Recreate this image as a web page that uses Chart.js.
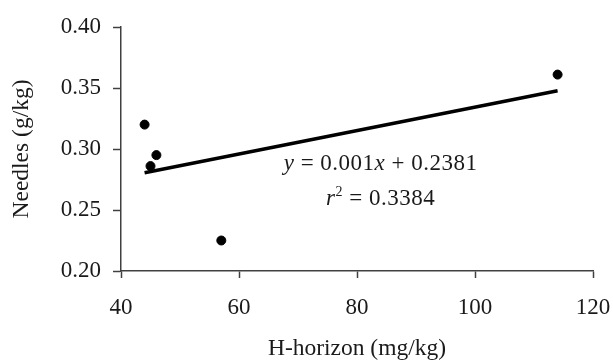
<!DOCTYPE html>
<html>
<head>
<meta charset="utf-8">
<script src="https://cdn.jsdelivr.net/npm/chart.js@4"></script>
<style>
  html, body { margin: 0; padding: 0; background: #fff; }
  #wrap { width: 613px; height: 363px; }
</style>
</head>
<body>
<div id="wrap"><canvas id="chart" width="613" height="363"></canvas></div>
<script>
// 数据
const hHorizon = [44, 45, 46, 57, 114];
const needles = [0.320, 0.286, 0.295, 0.225, 0.361];
const trendX = [44, 114];
const trendY = [0.2806, 0.3478];
const xTicks = [40, 60, 80, 100, 120];
const yTicks = [0.20, 0.25, 0.30, 0.35, 0.40];

const SERIF = '"Liberation Serif", "Times New Roman", serif';
const AXIS_COLOR = '#404040';
const TEXT_COLOR = '#1a1a1a';

// 回归方程文字
const equationPlugin = {
    id: 'equation',
    afterDatasetsDraw(chart) {
        const ctx = chart.ctx;
        const area = chart.chartArea;
        const cx = area.left + (area.right - area.left) * 0.55;
        const y1 = area.top + 137;
        const y2 = area.top + 172;
        ctx.save();
        ctx.fillStyle = TEXT_COLOR;
        ctx.textBaseline = 'middle';
        ctx.letterSpacing = '0.5px';

        const line1 = [
            ['y', 'italic'], [' = 0.001', 'normal'], ['x', 'italic'], [' + 0.2381', 'normal']
        ];
        drawParts(ctx, line1, cx, y1, 23);

        const line2 = [
            ['r', 'italic'], ['2', 'sup'], [' = 0.3384', 'normal']
        ];
        drawParts(ctx, line2, cx, y2, 23);
        ctx.restore();
    }
};

function partFont(style, size) {
    if (style === 'italic') return 'italic ' + size + 'px ' + SERIF;
    if (style === 'sup') return Math.round(size * 0.6) + 'px ' + SERIF;
    return size + 'px ' + SERIF;
}

function drawParts(ctx, parts, cx, cy, size) {
    let total = 0;
    parts.forEach(p => {
        ctx.font = partFont(p[1], size);
        total += ctx.measureText(p[0]).width;
    });
    let x = cx - total / 2;
    parts.forEach(p => {
        ctx.font = partFont(p[1], size);
        ctx.textAlign = 'left';
        const dy = p[1] === 'sup' ? -size * 0.3 : 0;
        ctx.fillText(p[0], x, cy + dy);
        x += ctx.measureText(p[0]).width;
    });
}

const ctx = document.getElementById('chart');

new Chart(ctx, {
    type: 'scatter',
    data: {
        datasets: [{
            label: 'Needles',
            data: hHorizon.map((x, i) => ({ x: x, y: needles[i] })),
            backgroundColor: '#000',
            borderColor: '#000',
            pointRadius: 4.5,
            pointHoverRadius: 4.5
        }, {
            label: 'Trend',
            type: 'line',
            data: trendX.map((x, i) => ({ x: x, y: trendY[i] })),
            borderColor: '#000',
            borderWidth: 3.5,
            pointRadius: 0,
            fill: false
        }]
    },
    options: {
        responsive: false,
        animation: false,
        events: [],
        layout: {
            padding: { top: 27, right: 20, left: 0, bottom: 0 }
        },
        plugins: {
            legend: { display: false },
            tooltip: { enabled: false }
        },
        scales: {
            x: {
                type: 'linear',
                min: 40,
                max: 120,
                afterBuildTicks: scale => { scale.ticks = xTicks.map(v => ({ value: v })); },
                afterFit: scale => {
                    scale.height = 92;
                    scale.paddingLeft = 0;
                    scale.paddingRight = 0;
                },
                ticks: {
                    color: TEXT_COLOR,
                    font: { family: SERIF, size: 23 },
                    padding: 16,
                    maxRotation: 0
                },
                grid: {
                    drawOnChartArea: false,
                    tickLength: 7,
                    color: AXIS_COLOR,
                    tickWidth: 1.5
                },
                border: { color: AXIS_COLOR, width: 1.5 },
                title: {
                    display: true,
                    text: 'H-horizon (mg/kg)',
                    color: TEXT_COLOR,
                    font: { family: SERIF, size: 23.5 },
                    padding: { top: 0, bottom: 0 }
                }
            },
            y: {
                type: 'linear',
                min: 0.2,
                max: 0.4,
                afterBuildTicks: scale => { scale.ticks = yTicks.map(v => ({ value: v })); },
                afterFit: scale => {
                    scale.width = 121;
                    scale.paddingTop = 0;
                    scale.paddingBottom = 0;
                },
                ticks: {
                    color: TEXT_COLOR,
                    font: { family: SERIF, size: 23 },
                    padding: 12,
                    callback: v => v.toFixed(2)
                },
                grid: {
                    drawOnChartArea: false,
                    tickLength: 8,
                    color: AXIS_COLOR,
                    tickWidth: 1.5
                },
                border: { color: AXIS_COLOR, width: 1.5 },
                title: {
                    display: true,
                    text: 'Needles (g/kg)',
                    color: TEXT_COLOR,
                    font: { family: SERIF, size: 23.5 },
                    padding: { top: 8, bottom: 0 }
                }
            }
        }
    },
    plugins: [equationPlugin]
});
</script>
</body>
</html>
